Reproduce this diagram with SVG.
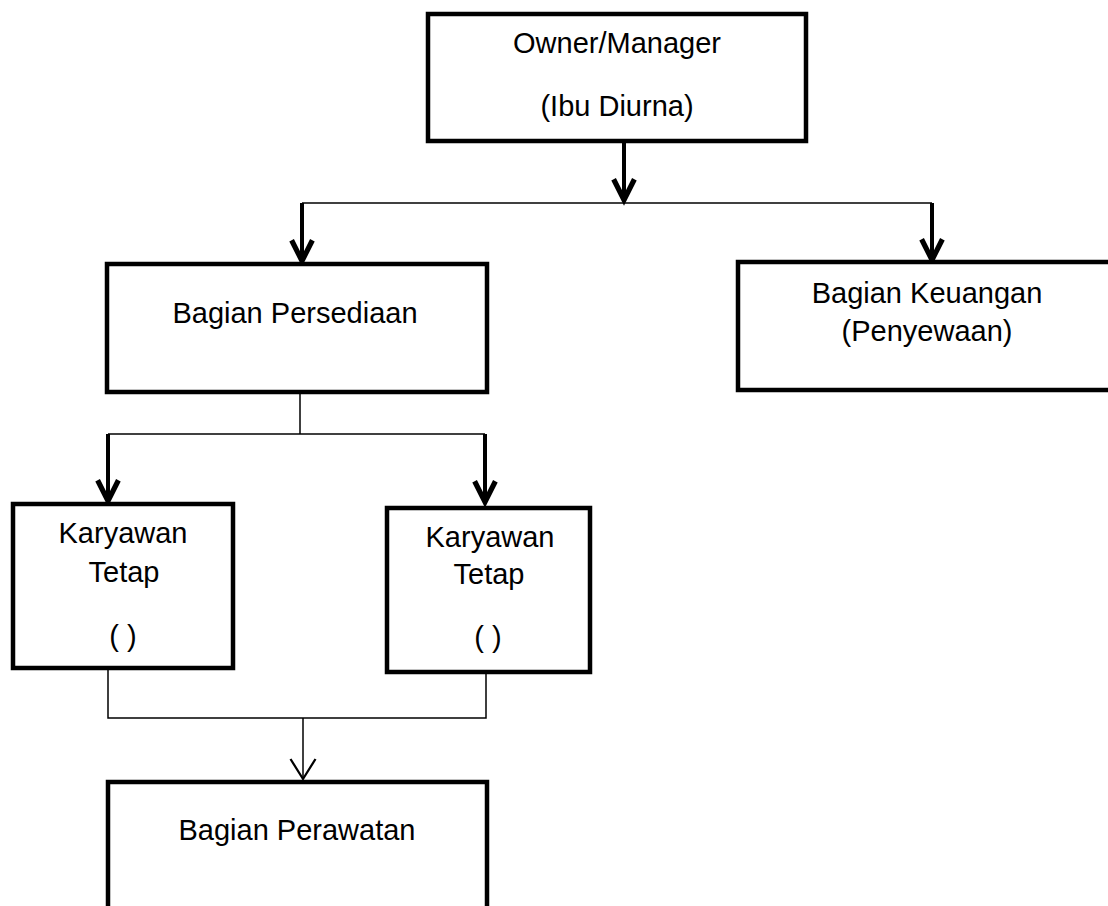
<svg xmlns="http://www.w3.org/2000/svg" width="1108" height="906" viewBox="0 0 1108 906">
<style>
.box{fill:#fff;stroke:#000;stroke-width:4.5;stroke-linejoin:miter}
.t{font-family:"Liberation Sans",Arial,sans-serif;font-size:29px;fill:#000;text-anchor:middle}
.thin{fill:none;stroke:#000;stroke-width:1.5}
.thick{fill:none;stroke:#000;stroke-width:4}
</style>
<defs>
<marker id="ah" markerUnits="userSpaceOnUse" orient="auto" refX="0" refY="0" markerWidth="30" markerHeight="30" viewBox="-22 -12 26 24" overflow="visible">
<path d="M-18,-9 L0,0 L-18,9" fill="none" stroke="#000" stroke-width="4.5"/>
</marker>
<marker id="ahthin" markerUnits="userSpaceOnUse" orient="auto" refX="0" refY="0" markerWidth="30" markerHeight="30" viewBox="-20 -12 24 24" overflow="visible">
<path d="M-16,-10 L0,0 L-16,10" fill="none" stroke="#000" stroke-width="1.8"/>
</marker>
</defs>
<rect width="1108" height="906" fill="#fff"/>
<g id="connectors">
<path class="thick" d="M624,141 V200" marker-end="url(#ah)"/>
<path class="thin" d="M302,203 H932"/>
<path class="thick" d="M302,203 V261" marker-end="url(#ah)"/>
<path class="thick" d="M932,203 V260" marker-end="url(#ah)"/>
<path class="thin" d="M300,392 V434"/>
<path class="thin" d="M108,434 H485"/>
<path class="thick" d="M108,434 V501" marker-end="url(#ah)"/>
<path class="thick" d="M485,434 V502" marker-end="url(#ah)"/>
<path class="thin" d="M108,668 V718 H486 V672"/>
<path class="thin" d="M303,718 V779" marker-end="url(#ahthin)"/>
</g>
<g id="owner">
<rect class="box" x="428" y="14" width="378" height="127"/>
<text class="t" x="617" y="53">Owner/Manager</text>
<text class="t" x="617" y="116">(Ibu Diurna)</text>
</g>
<g id="persediaan">
<rect class="box" x="107" y="264" width="380" height="128"/>
<text class="t" x="295" y="323">Bagian Persediaan</text>
</g>
<g id="keuangan">
<rect class="box" x="738" y="262" width="390" height="128"/>
<text class="t" x="927" y="303">Bagian Keuangan</text>
<text class="t" x="927" y="341">(Penyewaan)</text>
</g>
<g id="karyawan1">
<rect class="box" x="13" y="504" width="220" height="164"/>
<text class="t" x="123" y="543">Karyawan</text>
<text class="t" x="124" y="582">Tetap</text>
<text class="t" x="123" y="646">( )</text>
</g>
<g id="karyawan2">
<rect class="box" x="387" y="508" width="203" height="164"/>
<text class="t" x="490" y="547">Karyawan</text>
<text class="t" x="489" y="584">Tetap</text>
<text class="t" x="488" y="647">( )</text>
</g>
<g id="perawatan">
<rect class="box" x="108" y="782" width="379" height="150"/>
<text class="t" x="297" y="840">Bagian Perawatan</text>
</g>
</svg>
